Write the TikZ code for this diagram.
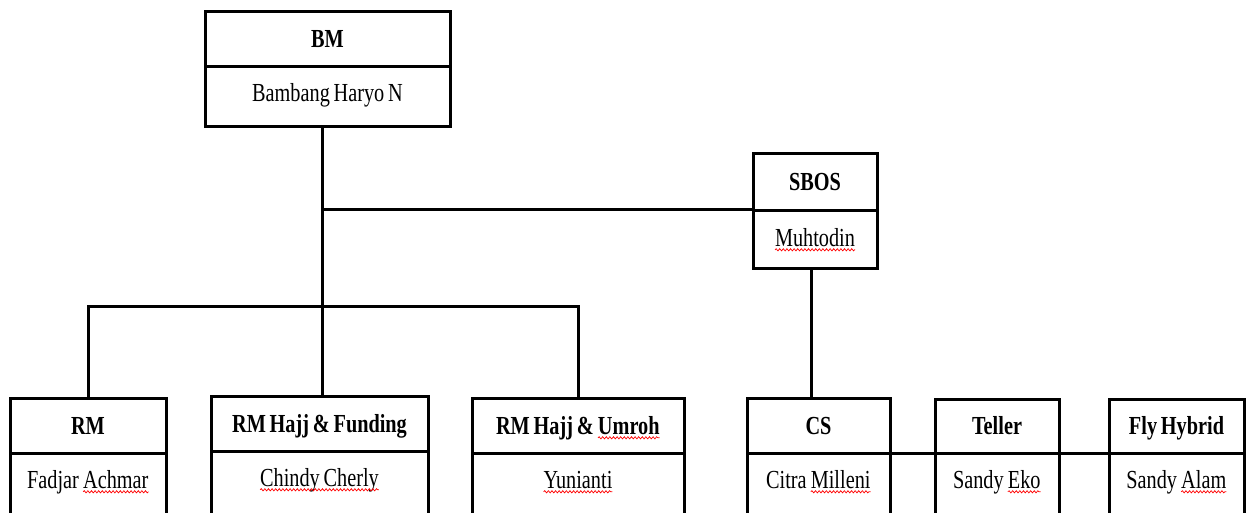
\documentclass[tikz,border=0pt]{standalone}
\usepackage{fontspec}
\setmainfont{Liberation Serif}[FakeStretch=0.78,WordSpace=0.75]
\usetikzlibrary{decorations.pathmorphing}
\newcommand\wavy[1]{\tikz[baseline=(w.base),x=1cm,y=1cm]{\node[inner sep=0pt,outer sep=0pt](w){#1};\draw[red,line width=0.7pt,decorate,decoration={snake,amplitude=1.1pt,segment length=3.6pt}]([yshift=-3.8pt]w.base west)--([yshift=-3.8pt]w.base east);}}
\tikzset{
  ln/.style={line width=3pt},
  part/.style={draw,line width=3pt,inner sep=0pt,outer sep=0pt,anchor=north west},
  ttl/.style={font=\fontsize{26}{30}\selectfont\bfseries,anchor=base,inner sep=0pt},
  nm/.style={font=\fontsize{26}{30}\selectfont,anchor=base,inner sep=0pt}
}
\newcommand\obox[8]{%
  \node[part,minimum width={#4-#2},minimum height={#5-#3}] (#1T) at (#2,#3) {};
  \node[part,minimum width={#4-#2},minimum height={#6-#5}] (#1B) at (#2,#5) {};
  \node[ttl] (#1t) at ([yshift=-8.5pt]#1T.center) {#7};
  \node[nm] (#1n) at ([yshift=-35pt]#1B.north) {#8};
}
\begin{document}
\begin{tikzpicture}[x=1pt,y=-1pt]
\useasboundingbox (0,0) rectangle (1247,513);
\clip (0,0) rectangle (1247,513);
\obox{bm}{205}{12}{450}{67}{127}{BM}{Bambang Haryo N}
\obox{sbos}{753}{154}{877}{211}{268}{SBOS}{\wavy{Muhtodin}}
\obox{rm}{10}{398}{166}{453}{540}{RM}{Fadjar \wavy{Achmar}}
\obox{rmhf}{211}{396}{428}{451}{540}{RM Hajj \& Funding}{\wavy{Chindy Cherly}}
\obox{rmhu}{472}{398}{684}{453}{540}{RM Hajj \& \wavy{Umroh}}{\wavy{Yunianti}}
\obox{cs}{747}{398}{890}{453}{540}{CS}{Citra \wavy{Milleni}}
\obox{tel}{935}{399}{1059}{453}{540}{Teller}{Sandy \wavy{Eko}}
\obox{fh}{1109}{399}{1244}{453}{540}{Fly Hybrid}{Sandy \wavy{Alam}}
\coordinate (jA) at (322,210);
\coordinate (jB) at (322,306);
\coordinate (jC) at (811,330);
\draw[ln] (bmB.south -| jA) -- (rmhfT.north -| jA);
\draw[ln] (jA) -- (jA -| sbosT.south west);
\draw[ln] (rmT.north) |- (rmhuT.north |- jB) -- (rmhuT.north);
\draw[ln] (sbosB.south -| jC) -- (csT.north -| jC);
\draw[ln] (csT.south east) -- (telT.south west);
\draw[ln] (telT.south east) -- (fhT.south west);
\end{tikzpicture}
\end{document}
